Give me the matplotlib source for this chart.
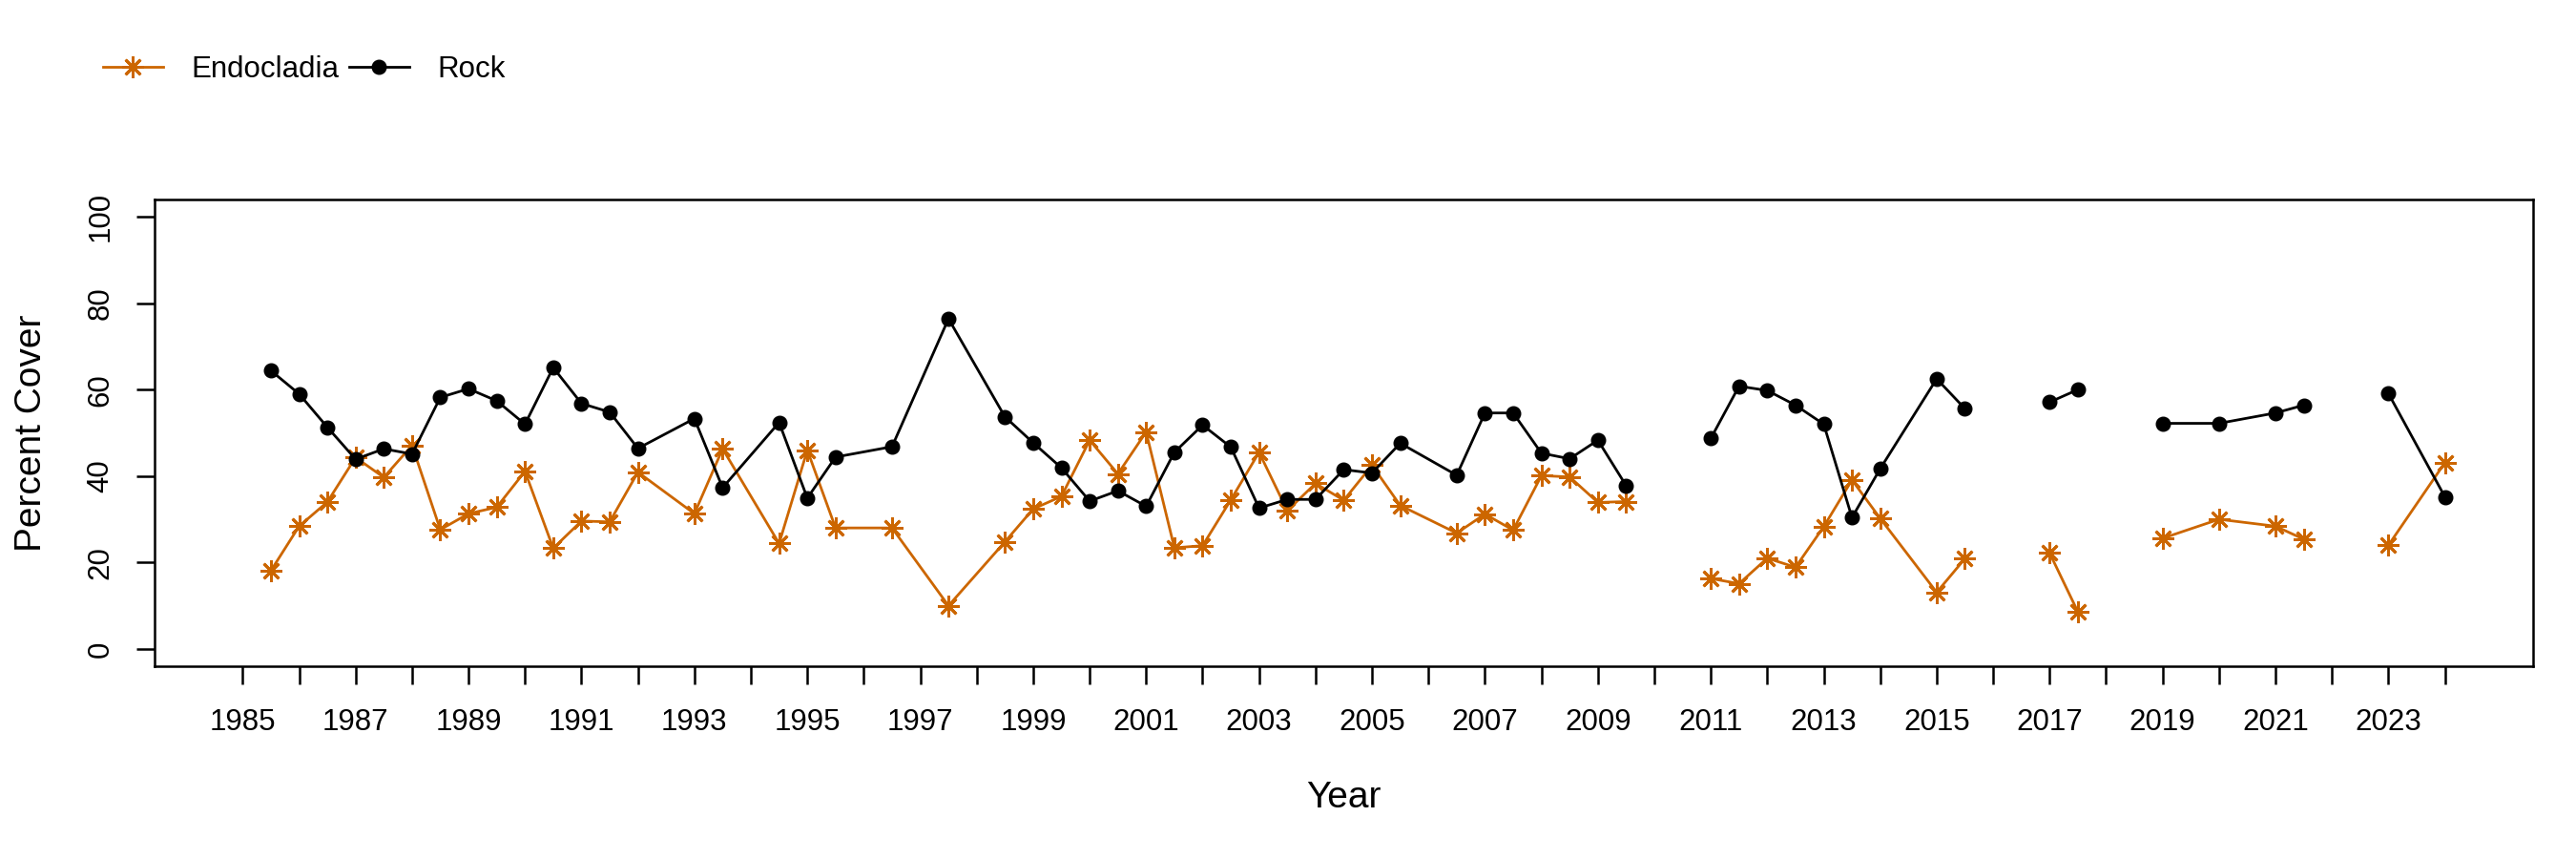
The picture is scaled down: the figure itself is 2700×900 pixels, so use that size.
import numpy as np
import matplotlib
matplotlib.use("Agg")
import matplotlib.pyplot as plt

#---Data (NaN marks a survey with no data, which breaks the line)
nan = np.nan
years = [1985.5, 1986, 1986.5, 1987, 1987.5, 1988, 1988.5, 1989, 1989.5, 1990,
         1990.5, 1991, 1991.5, 1992, 1993, 1993.5, 1994.5, 1995, 1995.5, 1996.5,
         1997.5, 1998.5, 1999, 1999.5, 2000, 2000.5, 2001, 2001.5, 2002, 2002.5,
         2003, 2003.5, 2004, 2004.5, 2005, 2005.5, 2006.5, 2007, 2007.5, 2008,
         2008.5, 2009, 2009.5, 2010, 2011, 2011.5, 2012, 2012.5, 2013, 2013.5,
         2014, 2015, 2015.5, 2016, 2017, 2017.5, 2018, 2019, 2020, 2021,
         2021.5, 2022, 2023, 2024]
endocladia = [18.1, 28.4, 34.0, 44.3, 39.7, 47.1, 27.6, 31.3, 32.8, 41.1,
              23.3, 29.6, 29.4, 40.9, 31.3, 46.3, 24.4, 46.0, 28.0, 28.0,
              10.0, 24.8, 32.4, 35.3, 48.3, 40.5, 50.2, 23.4, 23.9, 34.5,
              45.5, 32.0, 38.3, 34.4, 42.5, 33.2, 26.8, 31.2, 27.5, 40.1,
              39.8, 33.9, 34.1, nan, 16.3, 15.1, 21.0, 18.9, 28.3, 39.1,
              30.2, 13.1, 20.9, nan, 22.2, 8.6, nan, 25.6, 30.0, 28.4,
              25.4, nan, 24.0, 43.1]
rock = [64.4, 59.0, 51.3, 43.9, 46.3, 45.1, 58.2, 60.2, 57.4, 52.0,
        65.1, 56.8, 54.8, 46.4, 53.3, 37.3, 52.4, 34.9, 44.4, 46.8,
        76.4, 53.7, 47.7, 41.9, 34.2, 36.6, 33.0, 45.5, 51.8, 46.7,
        32.6, 34.6, 34.6, 41.5, 40.7, 47.6, 40.2, 54.6, 54.6, 45.3,
        44.0, 48.3, 37.8, nan, 48.7, 60.8, 59.8, 56.4, 52.0, 30.4,
        41.7, 62.5, 55.6, nan, 57.1, 60.0, nan, 52.2, 52.2, 54.6,
        56.4, nan, 59.1, 35.2]
tick_years = list(range(1985, 2025))
tick_labels = [str(y) if y % 2 == 1 else "" for y in tick_years]
y_ticks = [0, 20, 40, 60, 80, 100]

orange = "#CC6600"
plt.rcParams['font.family'] = ['Liberation Sans', 'DejaVu Sans']

#---Figure
fig = plt.figure(figsize=(27, 9), dpi=100)
ax = fig.add_axes([0.06, 0.2244, 0.9233, 0.5434])

ax.plot(years, endocladia, color=orange, lw=2, marker=(8, 2, 0), ms=16,
        mew=2, label="Endocladia")
ax.plot(years, rock, color="black", lw=2, marker="o", ms=10.5,
        label="Rock")

# R style limits: 4% padding around 1985-2024 and 0-100
ax.set_xlim(1983.44, 2025.56)
ax.set_ylim(-4, 104)
ax.set_xticks(tick_years)
ax.set_xticklabels(tick_labels, fontsize=22.5)
ax.set_yticks(y_ticks)
ax.set_yticklabels([str(v) for v in y_ticks], fontsize=22.5, rotation=90,
                   va="center")
ax.tick_params(axis="both", length=14, width=1.8)
ax.tick_params(axis="x", pad=18)
ax.tick_params(axis="y", pad=16)

for s in ax.spines.values():
    s.set_linewidth(1.8)

ax.set_xlabel("Year", fontsize=28, labelpad=33)
ax.set_ylabel("Percent Cover", fontsize=28, labelpad=28)

fig.legend(loc="center left", bbox_to_anchor=(0.04, 0.919), ncol=2,
           frameon=False, fontsize=22.5, handlelength=2.0, handletextpad=0.95,
           columnspacing=0.35, borderpad=0, borderaxespad=0)

fig.savefig("out.png", dpi=100)
